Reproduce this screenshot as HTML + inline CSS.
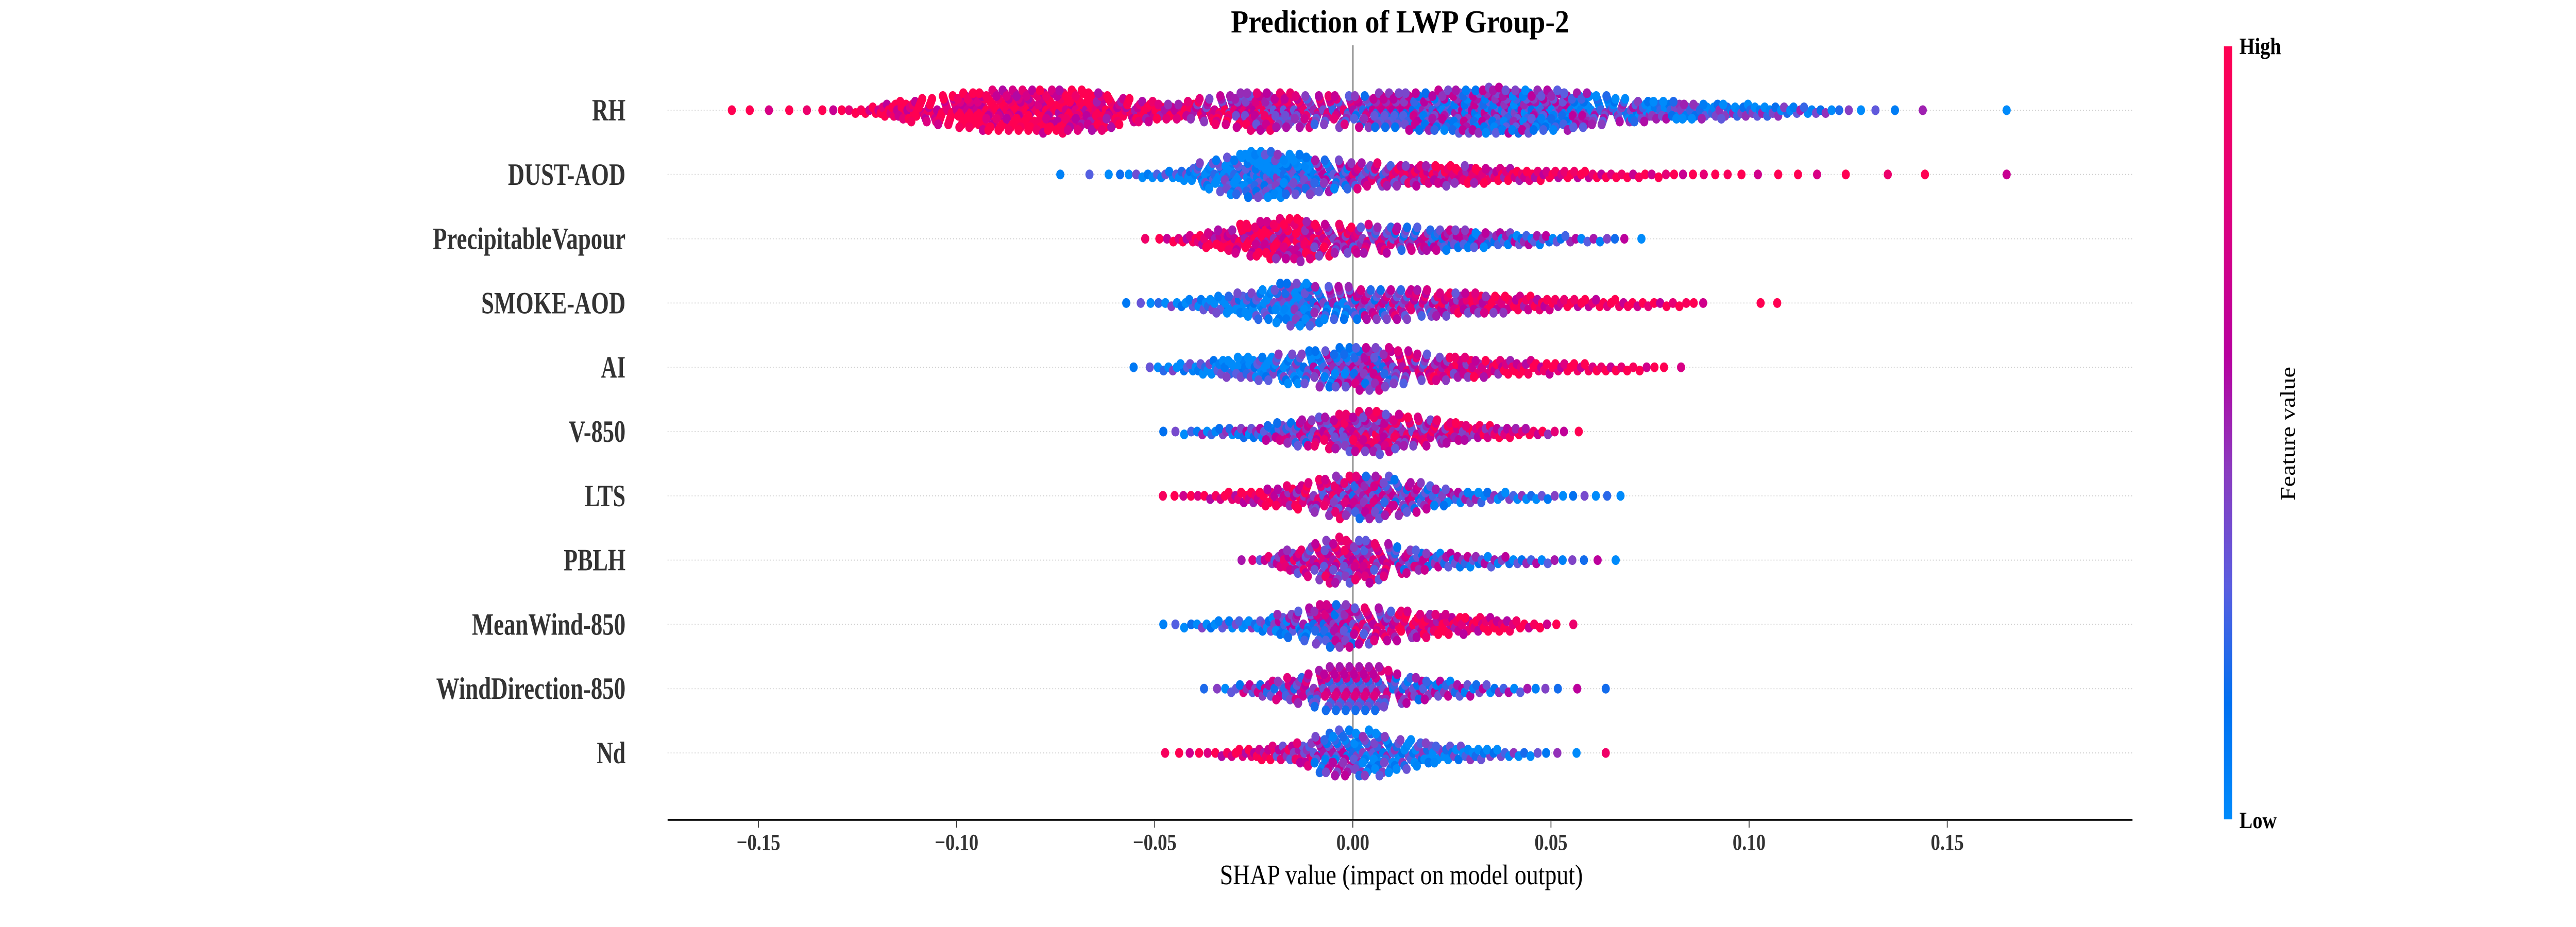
<!DOCTYPE html>
<html><head><meta charset="utf-8"><style>
html,body{margin:0;padding:0;background:#fff;width:100%;height:100%;overflow:hidden;}
svg{display:block;width:100vw;height:100vh;}
text{font-family:"Liberation Serif",serif;}
</style></head><body>
<svg id="chart" viewBox="0 0 6000 1800" preserveAspectRatio="none" xmlns="http://www.w3.org/2000/svg">
<defs>
<linearGradient id="cbar" x1="0" y1="1" x2="0" y2="0">
<stop offset="0" stop-color="#008bfb"/><stop offset="0.15" stop-color="#0070f0"/>
<stop offset="0.3" stop-color="#5a5ee0"/><stop offset="0.45" stop-color="#8a3cc0"/>
<stop offset="0.6" stop-color="#b8009f"/><stop offset="0.8" stop-color="#e0007e"/>
<stop offset="1" stop-color="#ff0052"/>
</linearGradient>
</defs>
<text x="3261" y="63" text-anchor="middle" font-size="62" font-weight="bold" textLength="788" lengthAdjust="spacingAndGlyphs" fill="#000">Prediction of LWP Group-2</text>
<g id="grid"></g>
<line x1="3151" y1="88" x2="3151" y2="1592" stroke="#999" stroke-width="4"/>
<g id="dots"></g>
<g id="labels"></g>
<line x1="1555" y1="1592" x2="4967" y2="1592" stroke="#000" stroke-width="3.5"/>
<g id="xticks"></g>
<text x="3264" y="1717" text-anchor="middle" font-size="55" fill="#000">SHAP value (impact on model output)</text>
<rect x="5180" y="90" width="19" height="1501" fill="url(#cbar)"/>
<text x="5216" y="105" font-size="46" font-weight="bold" fill="#000">High</text>
<text x="5216" y="1608" font-size="46" font-weight="bold" fill="#000">Low</text>
<text x="5345" y="842" font-size="48" fill="#000" text-anchor="middle" transform="rotate(-90 5345 842)">Feature value</text>
</svg>
<script>
const features=["RH","DUST-AOD","PrecipitableVapour","SMOKE-AOD","AI","V-850","LTS","PBLH","MeanWind-850","WindDirection-850","Nd"];
const labelWidths=[78,274,449,336,57,132,95,144,358,441,67];
const tickValues=[-0.15,-0.10,-0.05,0.00,0.05,0.10,0.15];
const tickLabels=["\u22120.15","\u22120.10","\u22120.05","0.00","0.05","0.10","0.15"];
const binLo=-0.16;
const binWidth=0.01;
const countsRH=[2,2,3,8,25,40,55,60,62,55,35,25,40,55,50,45,50,55,62,66,62,55,40,30,25,20,15,10,4,2,1,0,1,0];
const colorsRH=[1,1,1,1,0.95,0.95,0.95,0.9,0.9,0.85,0.85,0.8,0.7,0.65,0.6,0.55,0.45,0.4,0.35,0.35,0.3,0.3,0.25,0.25,0.2,0.2,0.2,0.2,0.2,0.2,0.2,0.2,0.25,0.2];
const countsDUST=[0,0,0,0,0,0,0,0,1,2,6,14,45,66,60,45,35,30,28,22,15,12,8,6,4,3,2,2,1,1,1,0,1,0];
const colorsDUST=[.1,.1,.1,.1,.1,.1,.1,.1,.05,.05,.05,.08,.1,.1,.15,.35,.55,.65,.75,.8,.85,.9,.95,.95,1,1,1,1,1,1,1,1,1,1];
const countsPV=[0,0,0,0,0,0,0,0,0,0,1,8,25,50,60,45,40,35,30,22,15,8,5,1,0,0,0,0,0,0,0,0,0,0];
const colorsPV=[.9,.9,.9,.9,.9,.9,.9,.9,.9,.9,.9,.9,.85,.85,.8,.7,.55,.45,.4,.3,.3,.3,.3,.3,.3,.3,.3,.3,.3,.3,.3,.3,.3,.3];
const countsSMOKE=[0,0,0,0,0,0,0,0,0,0,3,8,20,35,55,45,40,38,30,25,18,12,10,7,5,0,2,0,0,0,0,0,0,0];
const colorsSMOKE=[.1,.1,.1,.1,.1,.1,.1,.1,.1,.1,.1,.1,.1,.1,.15,.3,.45,.55,.65,.75,.85,.9,.95,.95,1,1,1,1,1,1,1,1,1,1];
const countsAI=[0,0,0,0,0,0,0,0,0,0,2,10,20,30,40,50,55,40,30,22,16,12,8,5,1,0,0,0,0,0,0,0,0,0];
const colorsAI=[.1,.1,.1,.1,.1,.1,.1,.1,.1,.1,.1,.1,.1,.1,.15,.3,.45,.6,.7,.8,.9,.95,1,1,1,1,1,1,1,1,1,1,1,1];
const countsV850=[0,0,0,0,0,0,0,0,0,0,0,4,10,18,35,50,60,45,30,18,10,3,0,0,0,0,0,0,0,0,0,0,0,0];
const colorsV850=[.2,.2,.2,.2,.2,.2,.2,.2,.2,.2,.2,.15,.2,.3,.45,.6,.65,.65,.7,.75,.8,.8,.8,.8,.8,.8,.8,.8,.8,.8,.8,.8,.8,.8];
const countsLTS=[0,0,0,0,0,0,0,0,0,0,0,4,8,18,30,50,55,40,20,12,8,4,3,0,0,0,0,0,0,0,0,0,0,0];
const colorsLTS=[.9,.9,.9,.9,.9,.9,.9,.9,.9,.9,.9,.95,.9,.85,.75,.6,.5,.45,.3,.2,.15,.15,.1,.1,.1,.1,.1,.1,.1,.1,.1,.1,.1,.1];
const countsPBLH=[0,0,0,0,0,0,0,0,0,0,0,0,0,6,30,55,50,30,18,12,8,4,2,0,0,0,0,0,0,0,0,0,0,0];
const colorsPBLH=[.6,.6,.6,.6,.6,.6,.6,.6,.6,.6,.6,.6,.6,.55,.6,.6,.6,.45,.35,.3,.3,.3,.3,.3,.3,.3,.3,.3,.3,.3,.3,.3,.3,.3];
const countsMW=[0,0,0,0,0,0,0,0,0,0,0,4,10,15,35,55,45,35,25,18,8,2,0,0,0,0,0,0,0,0,0,0,0,0];
const colorsMW=[.1,.1,.1,.1,.1,.1,.1,.1,.1,.1,.1,.05,.1,.15,.3,.45,.6,.75,.85,.9,.95,1,1,1,1,1,1,1,1,1,1,1,1,1];
const countsWD=[0,0,0,0,0,0,0,0,0,0,0,0,4,15,30,50,50,30,18,10,5,2,1,0,0,0,0,0,0,0,0,0,0,0];
const colorsWD=[.5,.5,.5,.5,.5,.5,.5,.5,.5,.5,.5,.5,.2,.45,.5,.5,.5,.4,.35,.3,.3,.3,.5,.3,.3,.3,.3,.3,.3,.3,.3,.3,.3,.3];
const countsND=[0,0,0,0,0,0,0,0,0,0,0,3,6,15,25,55,55,35,20,12,6,2,1,0,0,0,0,0,0,0,0,0,0,0];
const colorsND=[.9,.9,.9,.9,.9,.9,.9,.9,.9,.9,.9,.95,.9,.85,.6,.35,.2,.15,.15,.15,.15,.2,.9,.2,.2,.2,.2,.2,.2,.2,.2,.2,.2,.2];

const allCounts=[countsRH,countsDUST,countsPV,countsSMOKE,countsAI,countsV850,countsLTS,countsPBLH,countsMW,countsWD,countsND];
const allColors=[colorsRH,colorsDUST,colorsPV,colorsSMOKE,colorsAI,colorsV850,colorsLTS,colorsPBLH,colorsMW,colorsWD,colorsND];
const colorSpread=[0,0.3,-0.3,0.15,-0.15,0.4,-0.4,0.05,-0.2,0.25,-0.05,0.35,-0.35];

const NS="http://www.w3.org/2000/svg";
const X0=3151, XS=9230;
function xScale(v){return X0+v*XS;}
function yRow(i){return 214+124.8*i;}
const stops=[[0,[0,139,251]],[0.15,[0,112,240]],[0.3,[90,94,224]],[0.45,[138,60,192]],[0.6,[184,0,159]],[0.8,[224,0,126]],[1,[255,0,82]]];
function cmap(t){t=Math.max(0,Math.min(1,t));for(let k=1;k<stops.length;k++){if(t<=stops[k][0]){const a=stops[k-1],b=stops[k];const f=(t-a[0])/(b[0]-a[0]);const c=a[1].map((v,i)=>Math.round(v+(b[1][i]-v)*f));return "rgb("+c.join(",")+")";}}return "rgb(255,0,82)";}

function placePoints(counts){
  const pts=[];
  counts.forEach((n,b)=>{
    if(!n)return;
    const lo=binLo+b*binWidth;
    const prev=b>0?counts[b-1]:0, next=b<counts.length-1?counts[b+1]:0;
    const dl=(prev+n)/2, dr=(n+next)/2;
    const fine=40, w=[];let tot=0;
    for(let s=0;s<fine;s++){const u=(s+0.5)/fine;const d=u<0.5?dl+(n-dl)*u*2:n+(dr-n)*(u-0.5)*2;w.push(Math.max(d,0.05));tot+=Math.max(d,0.05);}
    let cum=0,s=0;
    for(let j=0;j<n;j++){
      const target=(j+0.5)/n*tot;
      while(s<fine-1&&cum+w[s]<target){cum+=w[s];s++;}
      const u=(s+(target-cum)/w[s])/fine;
      pts.push({v:lo+u*binWidth,b:b});
    }
  });
  return pts;
}

const grid=document.getElementById('grid');
const labels=document.getElementById('labels');
const dots=document.getElementById('dots');
features.forEach((name,i)=>{
  const y=yRow(i);
  const gl=document.createElementNS(NS,'line');
  gl.setAttribute('x1',1555);gl.setAttribute('x2',4967);gl.setAttribute('y1',y);gl.setAttribute('y2',y);
  gl.setAttribute('stroke','#ccc');gl.setAttribute('stroke-width','2');gl.setAttribute('stroke-dasharray','2 5');
  
  
  grid.appendChild(gl);
  const t=document.createElementNS(NS,'text');
  t.setAttribute('x',1457);t.setAttribute('y',y+20);t.setAttribute('text-anchor','end');
  t.setAttribute('font-size','60');t.setAttribute('font-weight','bold');t.setAttribute('fill','#333');
  t.setAttribute('textLength',labelWidths[i]);t.setAttribute('lengthAdjust','spacingAndGlyphs');
  t.textContent=name;
  
  
  labels.appendChild(t);
  const counts=allCounts[i], cols=allColors[i];
  const pts=placePoints(counts);
  const sub=0.0025, groups={};
  pts.forEach(p=>{const k=Math.floor((p.v-binLo)/sub);(groups[k]=groups[k]||[]).push(p);});
  let maxLayer=1;
  Object.values(groups).forEach(arr=>{maxLayer=Math.max(maxLayer,Math.ceil((arr.length-1)/2));});
  const sp=Math.min(7,44/maxLayer);
  const g=document.createElementNS(NS,'g');
  
  
  let pc=0;
  Object.keys(groups).sort((a,b)=>a-b).forEach(k=>{
    const arr=groups[k], m=arr.length;
    // deterministic reorder so layers aren't monotonic in x
    let step=5; while(m>1 && (m%step===0)) step++;
    arr.forEach((p0,j)=>{
      const p=arr[(j*step)%m];
      const layer=j===0?0:(j%2?Math.ceil(j/2):-j/2);
      const c=document.createElementNS(NS,'circle');
      c.setAttribute('cx',xScale(p.v).toFixed(1));
      c.setAttribute('cy',(y+layer*sp).toFixed(1));
      c.setAttribute('r','9.5');
      c.setAttribute('fill',cmap(cols[p.b]+colorSpread[pc%colorSpread.length]*0.8));
      
      
      g.appendChild(c);pc++;
    });
  });
  dots.appendChild(g);
});
const xt=document.getElementById('xticks');
tickValues.forEach((v,k)=>{
  const x=xScale(v);
  const l=document.createElementNS(NS,'line');
  l.setAttribute('x1',x);l.setAttribute('x2',x);l.setAttribute('y1',1592);l.setAttribute('y2',1607);
  l.setAttribute('stroke','#333');l.setAttribute('stroke-width','2');
  
  
  xt.appendChild(l);
  const t=document.createElementNS(NS,'text');
  t.setAttribute('x',x);t.setAttribute('y',1650);t.setAttribute('text-anchor','middle');
  t.setAttribute('font-size','44');t.setAttribute('font-weight','bold');t.setAttribute('fill','#333');
  t.textContent=tickLabels[k];
  
  
  xt.appendChild(t);
});
</script>
</body></html>
